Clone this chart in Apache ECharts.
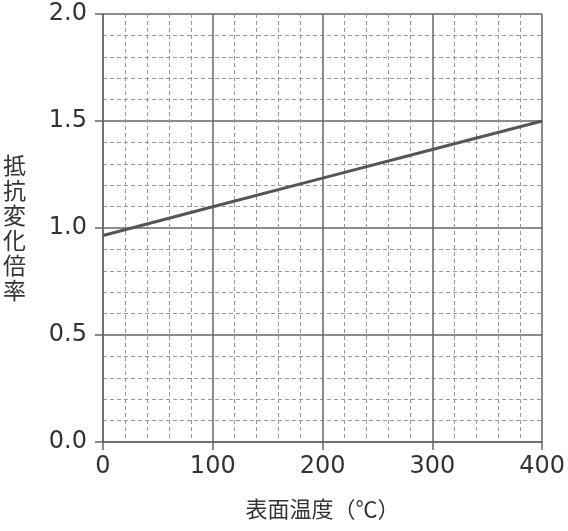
<!DOCTYPE html>
<html><head><meta charset="utf-8">
<script src="https://cdn.jsdelivr.net/npm/echarts@6/dist/echarts.min.js"></script>
<style>html,body{margin:0;padding:0;background:#fff}#c{width:568px;height:531px}</style>
</head><body><div id="c"></div>
<script>
const temperatures = [0, 100, 200, 300, 400];
const resistanceRatio = [0.965, 1.099, 1.233, 1.367, 1.5];
const xTicks = [0, 100, 200, 300, 400];
const yTicks = ['0.0', '0.5', '1.0', '1.5', '2.0'];
const xName = '表面温度（℃）';
const yName = '抵抗変化倍率';

const chart = echarts.init(document.getElementById('c'), null, {renderer: 'canvas'});
const major = {color: '#666666', width: 1.5};
const minor = {color: '#999999', width: 1, type: [4, 3]};
const tickFont = {fontFamily: 'DejaVu Sans', fontSize: 24, color: '#333'};
chart.setOption({
  animation: false,
  grid: {left: 102, right: 25, top: 14, bottom: 89},
  xAxis: {
    type: 'value', min: xTicks[0], max: xTicks[xTicks.length - 1], interval: 100,
    name: xName, nameLocation: 'middle', nameGap: 56,
    nameTextStyle: {fontFamily: 'Noto Sans CJK JP', fontSize: 22, color: '#333'},
    axisLine: {show: true, lineStyle: major},
    axisTick: {show: true, length: 8, lineStyle: major},
    axisLabel: Object.assign({margin: 13}, tickFont),
    splitLine: {show: true, lineStyle: major},
    minorTick: {show: false, splitNumber: 5},
    minorSplitLine: {show: true, lineStyle: minor}
  },
  yAxis: {
    type: 'value', min: 0, max: 2, interval: 0.5,
    name: yName.split('').join('\n'), nameLocation: 'middle', nameRotate: 0, nameGap: 77,
    nameTextStyle: {fontFamily: 'Noto Sans CJK JP', fontSize: 23, lineHeight: 25, color: '#333'},
    axisLine: {show: true, lineStyle: major},
    axisTick: {show: true, length: 8, lineStyle: major},
    axisLabel: Object.assign({margin: 16, formatter: v => yTicks[Math.round(v / 0.5)]}, tickFont),
    splitLine: {show: true, lineStyle: major},
    minorTick: {show: false, splitNumber: 5},
    minorSplitLine: {show: true, lineStyle: minor}
  },
  series: [{
    type: 'line',
    data: temperatures.map((t, i) => [t, resistanceRatio[i]]),
    showSymbol: false, symbol: 'none',
    lineStyle: {color: '#555555', width: 3},
    z: 5
  }]
});
</script></body></html>
